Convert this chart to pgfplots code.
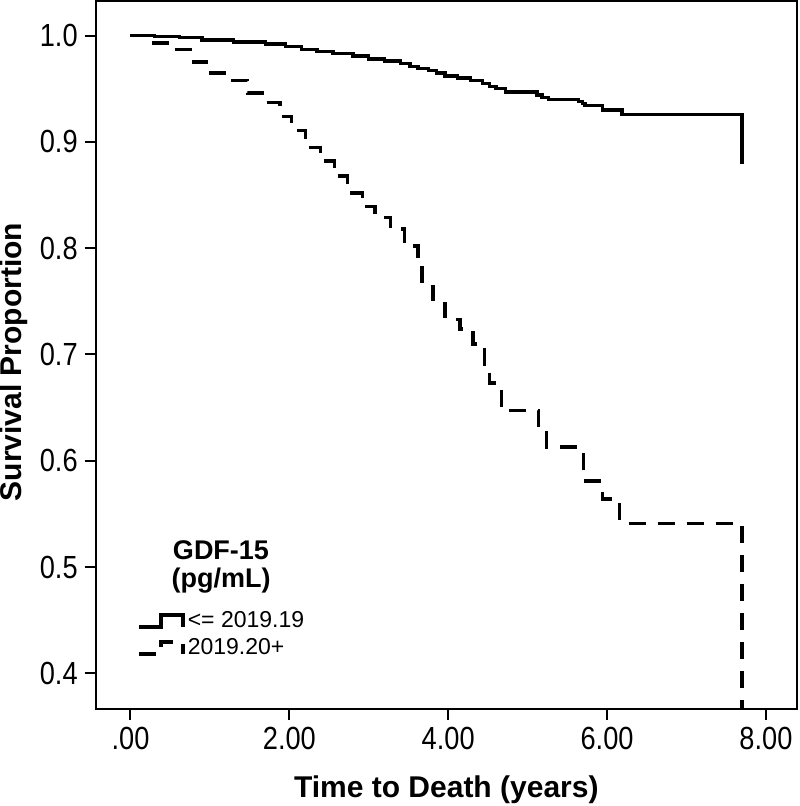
\documentclass[border=0pt]{standalone}
\usepackage{fontspec}
\setmainfont{Liberation Sans}
\newfontfamily\tickfont[FakeStretch=0.85]{Liberation Sans}
\usepackage{pgfplots}
\pgfplotsset{compat=1.18}
\begin{document}
\begin{tikzpicture}
\begin{axis}[
  scale only axis, width=350.6pt, height=354pt,
  xmin=-0.438, xmax=8.39, ymin=0.3664, ymax=1.0326,
  axis line style={line width=1pt},
  xtick={0,2,4,6,8}, xticklabels={.00,2.00,4.00,6.00,8.00},
  ytick={0.4,0.5,0.6,0.7,0.8,0.9,1.0},
  yticklabels={0.4,0.5,0.6,0.7,0.8,0.9,1.0},
  tick align=outside, xtick pos=bottom, ytick pos=left,
  major tick length=5.5pt,
  major tick style={line width=1pt, black},
  tick label style={font=\tickfont\fontsize{16}{16}\selectfont},
  /pgf/number format/assume math mode=true,
  xlabel={Time to Death (years)},
  ylabel={Survival Proportion},
  label style={font=\bfseries\fontsize{15}{15}\selectfont},
  xlabel style={at={(axis description cs:0.5,-0.1144)}, anchor=center},
  ylabel style={at={(axis description cs:-0.1165,0.49)}, anchor=center},
  legend style={at={(axis description cs:0.0589,0.1427)}, anchor=north west,
    draw=none, fill=none, inner sep=0pt,
    font=\fontsize{11.5}{13.8}\selectfont, row sep=1pt,
    nodes={inner sep=1.5pt}},
  legend cell align=left,
  legend image code/.code={\draw[#1] (0pt,-3pt) -- (11pt,-3pt) -- (11pt,3pt) -- (22pt,3pt) -- (22pt,-3pt);},
]
\addplot[const plot, black, line width=1.7pt] coordinates {
(0,1.000)(0.30,0.999)(0.62,0.998)(0.90,0.996)(1.30,0.994)(1.70,0.992)(1.95,0.990)(2.15,0.987)(2.35,0.985)(2.55,0.983)(2.80,0.981)(3.00,0.978)(3.20,0.976)(3.40,0.974)(3.52,0.971)(3.62,0.969)(3.75,0.967)(3.85,0.965)(3.96,0.962)(4.12,0.960)(4.28,0.958)(4.43,0.955)(4.52,0.952)(4.60,0.950)(4.72,0.947)(5.12,0.944)(5.18,0.942)(5.26,0.940)(5.64,0.938)(5.69,0.936)(5.72,0.934)(5.94,0.930)(6.19,0.926)(7.70,0.926)(7.70,0.879)
};
\addlegendentry{<= 2019.19}
\addplot[const plot, black, line width=1.7pt, dash pattern=on 8.5pt off 6pt] coordinates {
(0,1.000)(0.27,0.993)(0.53,0.987)(0.79,0.975)(0.98,0.965)(1.25,0.958)(1.47,0.946)(1.69,0.937)(1.88,0.924)(2.03,0.911)(2.20,0.895)(2.39,0.882)(2.57,0.868)(2.73,0.852)(2.92,0.839)(3.08,0.829)(3.27,0.818)(3.45,0.802)(3.62,0.787)(3.67,0.764)(3.81,0.748)(3.96,0.733)(4.15,0.724)(4.31,0.710)(4.46,0.691)(4.52,0.673)(4.67,0.647)(5.14,0.626)(5.24,0.613)(5.70,0.581)(5.94,0.564)(6.16,0.541)(7.70,0.541)(7.70,0.30)
};
\addlegendentry{2019.20+}
\node[font=\bfseries\fontsize{13.5}{13.5}\selectfont, anchor=base] at (axis description cs:0.1787,0.2105) {GDF-15};
\node[font=\bfseries\fontsize{13.5}{13.5}\selectfont, anchor=base] at (axis description cs:0.1787,0.1723) {(pg/mL)};
\end{axis}
\pgfresetboundingbox
\path[use as bounding box] ([shift={(-47.85pt,-48.5pt)}]current axis.south west) rectangle ([shift={(1.5pt,0.5pt)}]current axis.north east);
\end{tikzpicture}
\end{document}
